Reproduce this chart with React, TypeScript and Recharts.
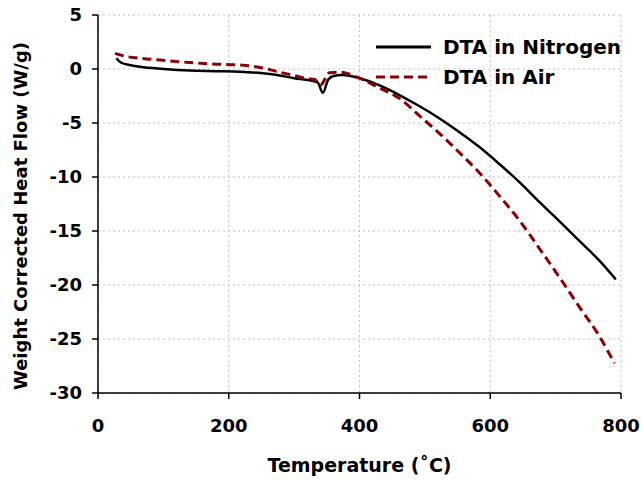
import React from "react";
import {
  LineChart,
  Line,
  XAxis,
  YAxis,
  CartesianGrid,
  Legend,
} from "recharts";

// DTA curves: temperature (°C) vs weight corrected heat flow (W/g)
const nitrogenTemp = [28, 35, 50, 64, 100, 140, 180, 217, 252, 278, 300, 324, 336, 344, 352, 360, 374, 400, 430, 461, 492, 523, 553, 584, 614, 645, 675, 706, 736, 767, 792];
const nitrogenFlow = [1.0, 0.6, 0.35, 0.2, 0.0, -0.15, -0.2, -0.25, -0.4, -0.6, -0.85, -1.05, -1.25, -2.2, -1.0, -0.65, -0.55, -0.85, -1.5, -2.41, -3.45, -4.6, -5.85, -7.25, -8.8, -10.5, -12.3, -14.1, -15.9, -17.75, -19.48];

const airTemp = [26, 40, 64, 100, 140, 180, 217, 252, 278, 300, 320, 332, 340, 354, 369, 400, 430, 461, 492, 523, 553, 584, 614, 645, 675, 706, 736, 767, 790];
const airFlow = [1.45, 1.2, 1.0, 0.8, 0.6, 0.45, 0.37, 0.1, -0.3, -0.6, -0.9, -1.0, -1.5, -0.35, -0.3, -0.85, -1.75, -2.72, -4.35, -6.0, -7.75, -9.65, -11.75, -14.05, -16.6, -19.3, -22.0, -24.75, -27.25];

const xTicks = [0, 200, 400, 600, 800];
const yTicks = [5, 0, -5, -10, -15, -20, -25, -30];

const nitrogenData = nitrogenTemp.map((t, i) => ({ t, v: nitrogenFlow[i] }));
const airData = airTemp.map((t, i) => ({ t, v: airFlow[i] }));

const FONT = "'DejaVu Sans', sans-serif";
const AIR_COLOR = "#8b0000";

const tickStyle = { fontFamily: FONT, fontWeight: "bold", fontSize: 18, fill: "#000" };

function YTitle() {
  return (
    <text
      x={20}
      y={216}
      transform="rotate(-90 20 216)"
      textAnchor="middle"
      dominantBaseline="central"
      style={{ fontFamily: FONT, fontWeight: "bold", fontSize: 18, fill: "#000" }}
    >
      Weight Corrected Heat Flow (W/g)
    </text>
  );
}

function DtaLegend() {
  const rows = [
    { label: "DTA in Nitrogen", color: "#000", dash: undefined },
    { label: "DTA in Air", color: AIR_COLOR, dash: "9 5" },
  ];
  return (
    <div>
      {rows.map((r) => (
        <div key={r.label} style={{ display: "flex", alignItems: "center", height: 30 }}>
          <svg width={56} height={10} style={{ marginRight: 11 }}>
            <line x1={0} y1={5} x2={55} y2={5} stroke={r.color} strokeWidth={3} strokeDasharray={r.dash} />
          </svg>
          <span style={{ fontFamily: FONT, fontWeight: "bold", fontSize: 20, color: "#000" }}>{r.label}</span>
        </div>
      ))}
    </div>
  );
}

export default function App() {
  return (
    <div style={{ position: "absolute", left: 0, top: 0, width: 641, height: 480, background: "#fff" }}>
      <LineChart width={641} height={480} margin={{ top: 15, right: 20, left: 0, bottom: 0 }}>
        <CartesianGrid stroke="#c0c0c0" strokeDasharray="2 3" />
        <XAxis
          type="number"
          dataKey="t"
          domain={[0, 800]}
          ticks={xTicks}
          allowDataOverflow
          height={87}
          tickSize={6}
          tickMargin={20}
          tick={tickStyle}
          axisLine={{ stroke: "#000", strokeWidth: 1.5 }}
          tickLine={{ stroke: "#000", strokeWidth: 1.5 }}
          label={{
            value: "Temperature (˚C)",
            position: "insideBottom",
            offset: 8,
            style: { fontFamily: FONT, fontWeight: "bold", fontSize: 19, fill: "#000" },
          }}
        />
        <XAxis
          xAxisId="top"
          orientation="top"
          type="number"
          domain={[0, 800]}
          height={0}
          tick={false}
          tickLine={false}
          axisLine={{ stroke: "#000", strokeWidth: 1.5 }}
        />
        <YAxis
          type="number"
          domain={[-30, 5]}
          ticks={yTicks}
          allowDataOverflow
          width={98}
          tickSize={6}
          tickMargin={10}
          tick={tickStyle}
          axisLine={{ stroke: "#000", strokeWidth: 1.5 }}
          tickLine={{ stroke: "#000", strokeWidth: 1.5 }}
          label={{ content: YTitle }}
        />
        <YAxis
          yAxisId="right"
          orientation="right"
          type="number"
          domain={[-30, 5]}
          width={0}
          tick={false}
          tickLine={false}
          axisLine={{ stroke: "#000", strokeWidth: 1.5 }}
        />
        <Legend
          layout="horizontal"
          verticalAlign="middle"
          align="center"
          content={<DtaLegend />}
          wrapperStyle={{ position: "absolute", top: 32, left: 376, width: 260 }}
        />
        <Line
          data={nitrogenData}
          dataKey="v"
          type="monotone"
          stroke="#000"
          strokeWidth={2.5}
          dot={false}
          isAnimationActive={false}
        />
        <Line
          data={airData}
          dataKey="v"
          type="monotone"
          stroke={AIR_COLOR}
          strokeWidth={3}
          strokeDasharray="9 5"
          dot={false}
          isAnimationActive={false}
        />
      </LineChart>
    </div>
  );
}
